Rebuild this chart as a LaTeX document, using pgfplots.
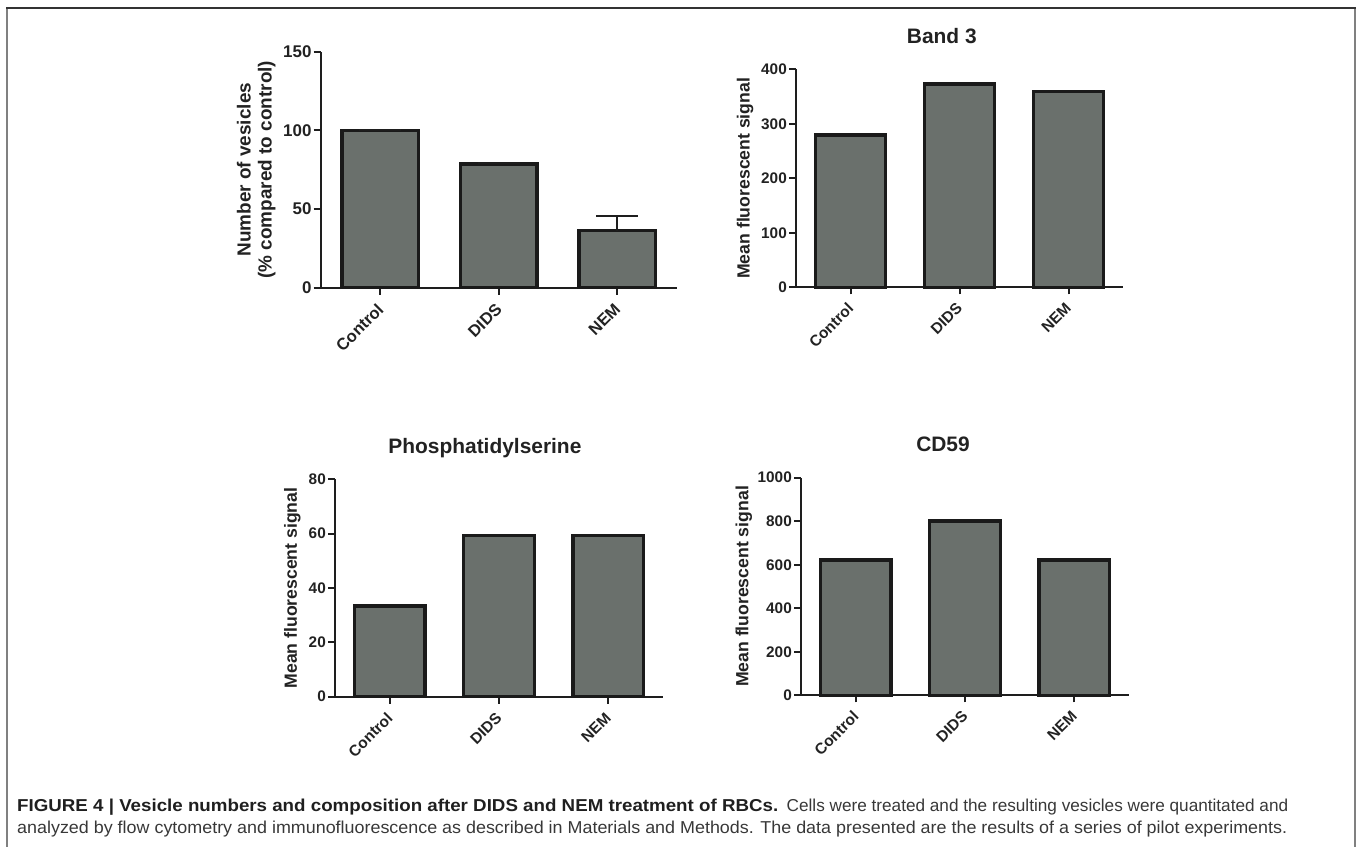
\documentclass[border=0pt]{standalone}
\usepackage{fontspec}
\setmainfont{Liberation Sans}
\usepackage{graphicx}
\usepackage{pgfplots}
\pgfplotsset{compat=1.18}
\definecolor{barfill}{RGB}{106,112,108}
\definecolor{barline}{RGB}{26,26,26}
\definecolor{axcol}{RGB}{30,30,30}
\definecolor{txt}{RGB}{34,34,34}
\pgfplotsset{
  panel/.style={
    scale only axis,
    anchor=south west,
    axis lines*=left,
    axis line style={line width=2bp, color=axcol},
    ybar, bar width=0.645,
    xmin=-0.5, xmax=2.5, ymin=0,
    xtick={0,1,2}, xticklabels={Control,DIDS,NEM},
    tick style={line width=2bp, color=axcol},
    tick align=outside,
    major tick length=7bp,
    /pgf/number format/assume math mode=true,
    /pgf/number format/1000 sep={},
    clip=false,
    every axis plot/.append style={fill=barfill, draw=barline, line width=3.5bp},
    xticklabel style={xshift=-4bp, yshift=-6bp, rotate=45, anchor=north east, inner sep=1bp, text=txt},
    yticklabel style={inner sep=2bp, text=txt},
    ylabel style={text=txt, anchor=center, align=center},
    title style={text=txt, anchor=base, yshift=20bp, font=\fontsize{21}{24}\selectfont\bfseries},
  },
  small/.style={
    xticklabel style={font=\fontsize{15.5}{18}\selectfont\bfseries},
    yticklabel style={font=\fontsize{15.4}{18}\selectfont\bfseries},
    ylabel style={font=\fontsize{17.7}{20}\selectfont\bfseries},
  }
}
\begin{document}
\begin{tikzpicture}
\path[use as bounding box] (0,0) rectangle (1358bp,-847bp);
% frame
\draw[line width=1.8bp, color=black!50] (7bp,-870bp) -- (7bp,-8bp);
\draw[line width=1.8bp, color=black!50] (1355bp,-870bp) -- (1355bp,-8bp);
\draw[line width=1.1bp, color=black!80] (6.1bp,-8bp) -- (1355.9bp,-8bp);

% Panel A
\begin{axis}[panel,
  at={(320.7bp,-287.7bp)}, width=356bp, height=236bp,
  ymax=150, ytick={0,50,100,150},
  xticklabel style={font=\fontsize{16.6}{19}\selectfont\bfseries},
  yticklabel style={font=\fontsize{17}{20}\selectfont\bfseries},
  ylabel style={font=\fontsize{19}{21}\selectfont\bfseries, at={(axis description cs:-0.181,0.5)}},
  ylabel={Number of vesicles\\(\% compared to control)},
]
\addplot[error bars/.cd, y dir=plus, y explicit, error mark=|,
  error bar style={line width=2bp, color=axcol},
  error mark options={line width=2bp, mark size=21bp, color=axcol}]
  coordinates {(0,100) +- (0,0) (1,78.5) +- (0,0.8) (2,36.2) +- (0,9.4)};
\end{axis}

% Panel B
\begin{axis}[panel, small,
  at={(796bp,-287.3bp)}, width=327bp, height=218bp,
  ymax=400, ytick={0,100,200,300,400},
  ylabel style={at={(axis description cs:-0.156,0.5)}},
  ylabel={Mean fluorescent signal},
  title={Band 3}, title style={at={(axis description cs:0.446,1)}},
]
\addplot[] coordinates {(0,279) (1,373) (2,359)};
\end{axis}

% Panel C
\begin{axis}[panel, small,
  at={(335bp,-696.7bp)}, width=328bp, height=217.4bp,
  ymax=80, ytick={0,20,40,60,80},
  ylabel style={at={(axis description cs:-0.13,0.5)}},
  ylabel={Mean fluorescent signal},
  title={Phosphatidylserine}, title style={at={(axis description cs:0.457,1)}},
]
\addplot[] coordinates {(0,33.3) (1,59.3) (2,59.3)};
\end{axis}

% Panel D
\begin{axis}[panel, small,
  at={(801bp,-695.3bp)}, width=328bp, height=217.6bp,
  ymax=1000, ytick={0,200,400,600,800,1000},
  ylabel style={at={(axis description cs:-0.174,0.5)}},
  ylabel={Mean fluorescent signal},
  title={CD59}, title style={at={(axis description cs:0.433,1)}},
]
\addplot[] coordinates {(0,621) (1,800) (2,621)};
\end{axis}

% caption
\node[anchor=base west, inner sep=0, text=black!88] at (17bp,-811bp)
  {\resizebox{761bp}{\height}{\fontsize{17.3}{20}\selectfont\bfseries FIGURE 4 | Vesicle numbers and composition after DIDS and NEM treatment of RBCs.}};
\node[anchor=base west, inner sep=0, text=black!78] at (786.5bp,-811bp)
  {\resizebox{501.5bp}{\height}{\fontsize{17.3}{20}\selectfont Cells were treated and the resulting vesicles were quantitated and}};
\node[anchor=base west, inner sep=0, text=black!78] at (17bp,-833bp)
  {\resizebox{1270bp}{\height}{\fontsize{17.3}{20}\selectfont analyzed by flow cytometry and immunofluorescence as described in Materials and Methods. The data presented are the results of a series of pilot experiments.}};
\end{tikzpicture}
\end{document}
